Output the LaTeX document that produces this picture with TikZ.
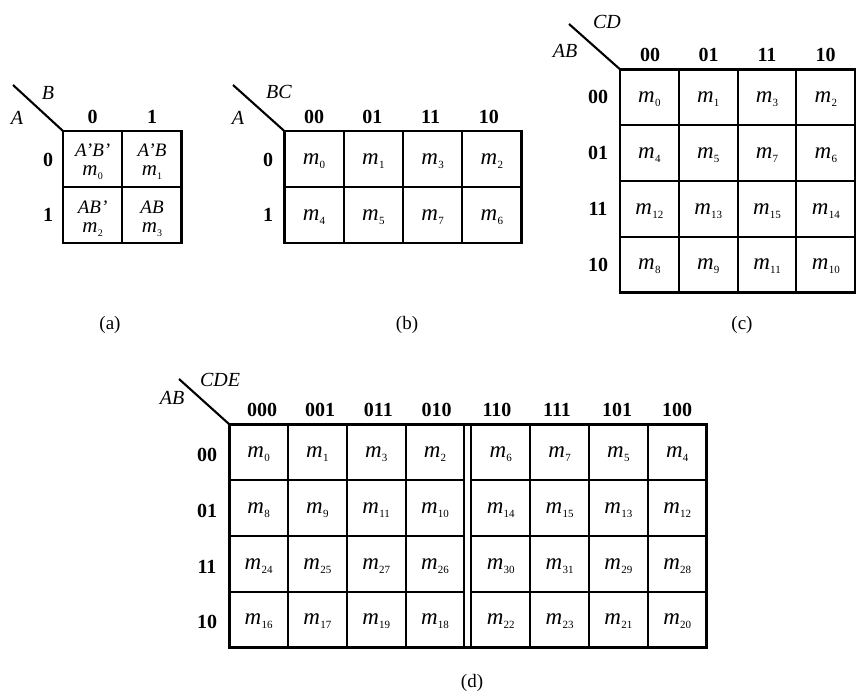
\documentclass[tikz,border=0pt]{standalone}
\usepackage{fontspec}
\setmainfont{Liberation Serif}
\newcommand{\mmt}[1]{{\fontsize{23}{24}\selectfont\textit{m}}\kern0.3pt\raisebox{-4pt}{\fontsize{11}{11}\selectfont #1}}
\newcommand{\mms}[1]{{\fontsize{21}{22}\selectfont\textit{m}}\kern0.3pt\raisebox{-4pt}{\fontsize{10}{10}\selectfont #1}}
\begin{document}
\begin{tikzpicture}[x=1pt,y=-1pt,
  gridline/.style={line width=1.9pt},
  borderline/.style={line width=2.7pt},
  diag/.style={line width=2.1pt},
  hdr/.style={font=\fontsize{20}{22}\selectfont\bfseries, inner sep=0pt},
  varlab/.style={font=\fontsize{20}{22}\selectfont\itshape, inner sep=0pt},
  cellt/.style={font=\fontsize{21}{22}\selectfont, inner sep=0pt},
  toplab/.style={font=\fontsize{19}{20}\selectfont\itshape, inner sep=0pt, anchor=base},
  mlab/.style={font=\fontsize{21}{22}\selectfont, inner sep=0pt, anchor=base},
  captext/.style={font=\fontsize{19}{22}\selectfont, inner sep=0pt}]
\useasboundingbox (0,0) rectangle (856,695);
\fill[white] (0,0) rectangle (856,695);

% ---------- (a) ----------
\coordinate (a-nw) at (63,131);
\coordinate (a-tip) at (13,85);
\draw[diag] (a-tip) -- (a-nw);
\foreach \i in {1} {
  \draw[gridline] (63+59.3*\i,131) -- (63+59.3*\i,243);
  \draw[gridline] (63,131+56*\i) -- (181.6,131+56*\i);
}
\draw[borderline] (a-nw) rectangle (181.6,243);
\node[varlab] (a-B) at (48,93) {B};
\node[varlab] (a-A) at (17,118) {A};
\node[hdr] (a-c0) at (92.6,117) {0};
\node[hdr] (a-c1) at (152,117) {1};
\node[hdr] (a-r0) at (48,160) {0};
\node[hdr] (a-r1) at (48,215) {1};
\node[toplab] (a-t0) at (92.6,157) {A'B'};
\node[toplab] (a-t1) at (152,157) {A'B};
\node[toplab] (a-t2) at (92.6,213) {AB'};
\node[toplab] (a-t3) at (152,213) {AB};
\node[mlab] (a-m0) at (92.6,176) {\mms{0}};
\node[mlab] (a-m1) at (152,176) {\mms{1}};
\node[mlab] (a-m2) at (92.6,232) {\mms{2}};
\node[mlab] (a-m3) at (152,232) {\mms{3}};
\node[captext] (a-cap) at (110,325) {(a)};

% ---------- (b) ----------
\coordinate (b-nw) at (284.3,131);
\coordinate (b-tip) at (233,85);
\draw[diag] (b-tip) -- (b-nw);
\foreach \i in {1,2,3}
  \draw[gridline] (284.3+59.3*\i,131) -- (284.3+59.3*\i,243);
\draw[gridline] (284.3,187) -- (521.5,187);
\draw[borderline] (b-nw) rectangle (521.5,243);
\node[varlab] (b-BC) at (279,92) {BC};
\node[varlab] (b-A) at (238,118) {A};
\foreach \lab [count=\c from 0] in {00,01,11,10}
  \node[hdr] (b-c\c) at (314+58.3*\c,117) {\lab};
\node[hdr] (b-r0) at (268,160) {0};
\node[hdr] (b-r1) at (268,215) {1};
\foreach \r/\lst in {0/{0,1,3,2},1/{4,5,7,6}}
  \foreach \v [count=\c from 0] in \lst
    \node[cellt] (b-\r-\c) at (314+59.3*\c,161+56*\r) {\mmt{\v}};
\node[captext] (b-cap) at (407,325) {(b)};

% ---------- (c) ----------
\coordinate (c-nw) at (620,69.3);
\coordinate (c-tip) at (569,24);
\draw[diag] (c-tip) -- (c-nw);
\foreach \i in {1,2,3} {
  \draw[gridline] (620+58.8*\i,69.3) -- (620+58.8*\i,292.7);
  \draw[gridline] (620,69.3+55.85*\i) -- (855,69.3+55.85*\i);
}
\draw[borderline] (c-nw) rectangle (855,292.7);
\node[varlab] (c-CD) at (607,22) {CD};
\node[varlab] (c-AB) at (565,51) {AB};
\foreach \lab [count=\c from 0] in {00,01,11,10}
  \node[hdr] (c-c\c) at (650+58.5*\c,55) {\lab};
\foreach \lab [count=\r from 0] in {00,01,11,10}
  \node[hdr] (c-r\r) at (598,97+55.85*\r) {\lab};
\foreach \r/\lst in {0/{0,1,3,2},1/{4,5,7,6},2/{12,13,15,14},3/{8,9,11,10}}
  \foreach \v [count=\c from 0] in \lst
    \node[cellt] (c-\r-\c) at (649.4+58.8*\c,99+55.85*\r) {\mmt{\v}};
\node[captext] (c-cap) at (742,325) {(c)};

% ---------- (d) ----------
\coordinate (d-nw) at (229.3,424.3);
\coordinate (d-tip) at (179,379);
\draw[diag] (d-tip) -- (d-nw);
\foreach \i in {1,2,3} {
  \draw[gridline] (229.3+58.75*\i,424.3) -- (229.3+58.75*\i,647.7);
  \draw[gridline] (471.3+58.85*\i,424.3) -- (471.3+58.85*\i,647.7);
  \draw[gridline] (229.3,424.3+55.85*\i) -- (464.3,424.3+55.85*\i);
  \draw[gridline] (471.3,424.3+55.85*\i) -- (706.7,424.3+55.85*\i);
}
\draw[borderline] (d-nw) rectangle (706.7,647.7);
\draw[gridline] (464.3,424.3) -- (464.3,647.7);
\draw[gridline] (471.3,424.3) -- (471.3,647.7);
\node[varlab] (d-CDE) at (220,380) {CDE};
\node[varlab] (d-AB) at (172,398) {AB};
\foreach \lab [count=\c from 0] in {000,001,011,010}
  \node[hdr] (d-c\c) at (262+58.2*\c,410) {\lab};
\foreach \lab [count=\c from 4] in {110,111,101,100}
  \node[hdr] (d-c\c) at (497+60*\c-240,410) {\lab};
\foreach \lab [count=\r from 0] in {00,01,11,10}
  \node[hdr] (d-r\r) at (207,455+55.8*\r) {\lab};
\foreach \r/\lst in {0/{0,1,3,2},1/{8,9,11,10},2/{24,25,27,26},3/{16,17,19,18}}
  \foreach \v [count=\c from 0] in \lst
    \node[cellt] (d-\r-\c) at (258.7+58.75*\c,454+55.85*\r) {\mmt{\v}};
\foreach \r/\lst in {0/{6,7,5,4},1/{14,15,13,12},2/{30,31,29,28},3/{22,23,21,20}}
  \foreach \v [count=\c from 4] in \lst
    \node[cellt] (d-\r-\c) at (500.7+58.85*\c-235.4,454+55.85*\r) {\mmt{\v}};
\node[captext] (d-cap) at (472,683) {(d)};
\end{tikzpicture}
\end{document}
